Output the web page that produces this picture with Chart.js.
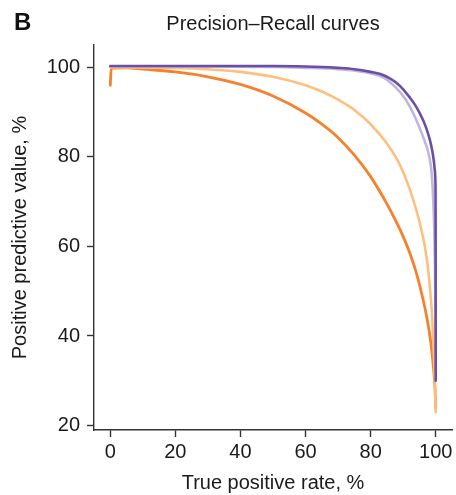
<!DOCTYPE html>
<html>
<head>
<meta charset="utf-8">
<script src="https://cdn.jsdelivr.net/npm/chart.js@4/dist/chart.umd.min.js"></script>
<style>
  html, body { margin: 0; padding: 0; background: #fff; }
  #wrap { position: relative; width: 456px; height: 495px; }
  #panel { position: absolute; left: 14px; top: 10px; font: bold 24px "Liberation Sans", Arial, sans-serif; line-height: 24px; color: #111; }
  canvas { position: absolute; left: 0; top: 0; }
</style>
</head>
<body>
<div id="wrap">
  <canvas id="c" width="456" height="495"></canvas>
  <div id="panel">B</div>
</div>
<script>
// ---- data ----
const chartTitle = "Precision\u2013Recall curves";
const xTitle = "True positive rate, %";
const yTitle = "Positive predictive value, %";
const xTicks = [0, 20, 40, 60, 80, 100];
const yTicks = [20, 40, 60, 80, 100];

const darkPurpleRecall = [0, 50, 65, 70, 75, 80, 83, 86, 88, 90, 92, 93.5, 95, 96.3, 97.3, 98.2, 98.9, 99.4, 99.7, 99.9, 99.97, 100];
const darkPurplePPV    = [100.3, 100.3, 100.1, 99.9, 99.6, 99.0, 98.5, 97.5, 96.5, 95.1, 93.3, 91.8, 89.9, 87.9, 86.0, 83.8, 81.5, 79.2, 77.2, 74.5, 65, 30];

const lightPurpleRecall = [0, 50, 60, 70, 75, 80, 84, 88, 90, 92, 94, 96, 97.5, 98.5, 98.9, 99.2, 99.5, 99.75, 99.9, 100];
const lightPurplePPV    = [100.2, 100.1, 99.9, 99.6, 99.3, 98.7, 97.7, 95.3, 93.6, 91.3, 88.3, 84.7, 81.6, 78, 75, 71, 65, 56, 45, 32];

const lightOrangeRecall = [0, 10, 20, 30, 40, 50, 60, 65, 70, 75, 80, 85, 88, 90, 92, 94, 95.5, 97, 98, 98.7, 99.3, 99.7, 100];
const lightOrangePPV    = [100, 100, 99.9, 99.6, 99.0, 97.9, 96.0, 94.6, 92.8, 90.5, 87.3, 83.0, 79.6, 76.6, 72.8, 68.2, 64, 58.5, 52.5, 46.5, 38.5, 31, 23];

const darkOrangeRecall = [0, 0.3, 5, 10, 20, 30, 40, 50, 60, 65, 70, 75, 80, 85, 88, 90, 92, 94, 96, 97.5, 98.5, 99.3, 99.8, 100];
const darkOrangePPV    = [96, 99.8, 99.9, 99.6, 99.0, 97.9, 96.2, 93.6, 89.8, 87.3, 84.3, 80.4, 75.6, 69.5, 65.3, 62.2, 58.6, 54.2, 48.5, 43.2, 38.5, 33, 28, 24];

// ---- build ----
const pts = (xs, ys) => xs.map((x, i) => ({ x: x, y: ys[i] }));
const FONT = '"Liberation Sans", Arial, Helvetica, sans-serif';
const TXT = '#1a1a1a';
const AX = '#333';

function ds(label, xs, ys, color, w) {
  return {
    label: label, data: pts(xs, ys), borderColor: color, backgroundColor: color,
    borderWidth: w, pointRadius: 0, fill: false, cubicInterpolationMode: 'monotone',
    borderCapStyle: 'round', borderJoinStyle: 'round'
  };
}

new Chart(document.getElementById('c'), {
  type: 'line',
  data: {
    datasets: [
      ds('dark purple', darkPurpleRecall, darkPurplePPV, '#6b4fa5', 2.6),
      ds('light purple', lightPurpleRecall, lightPurplePPV, '#c0b5dc', 2.6),
      ds('light orange', lightOrangeRecall, lightOrangePPV, '#fdbf7e', 2.6),
      ds('dark orange', darkOrangeRecall, darkOrangePPV, '#f7802c', 2.8)
    ]
  },
  options: {
    responsive: false,
    animation: false,
    layout: { padding: { top: 0, right: 4, bottom: 0, left: 8 } },
    plugins: {
      legend: { display: false },
      tooltip: { enabled: false },
      title: {
        display: true, text: chartTitle, fullSize: false, color: TXT,
        font: { family: FONT, size: 20, weight: 'normal', lineHeight: 1.2 },
        padding: { top: 12, bottom: 9 }
      }
    },
    scales: {
      x: {
        type: 'linear', min: -5, max: 105,
        afterBuildTicks: a => { a.ticks = xTicks.map(v => ({ value: v })); },
        afterFit: s => { s.height = 65; },
        grid: { drawOnChartArea: false, drawTicks: true, tickLength: 7, tickColor: AX, tickWidth: 1.4 },
        border: { display: true, color: AX, width: 1.4 },
        ticks: { color: TXT, font: { family: FONT, size: 20 }, padding: 3, maxRotation: 0, autoSkip: false },
        title: { display: true, text: xTitle, color: TXT, font: { family: FONT, size: 20, lineHeight: 1.2 }, padding: { top: 0, bottom: 0 } }
      },
      y: {
        type: 'linear', min: 19, max: 105,
        afterBuildTicks: a => { a.ticks = yTicks.map(v => ({ value: v })); },
        afterFit: s => { s.width = 86; },
        grid: { drawOnChartArea: false, drawTicks: true, tickLength: 7, tickColor: AX, tickWidth: 1.4 },
        border: { display: true, color: AX, width: 1.4 },
        ticks: { color: TXT, font: { family: FONT, size: 20 }, padding: 7, autoSkip: false },
        title: { display: true, text: yTitle, color: TXT, font: { family: FONT, size: 20, lineHeight: 1.2 }, padding: { top: 0, bottom: 0 } }
      }
    }
  }
});
</script>
</body>
</html>
